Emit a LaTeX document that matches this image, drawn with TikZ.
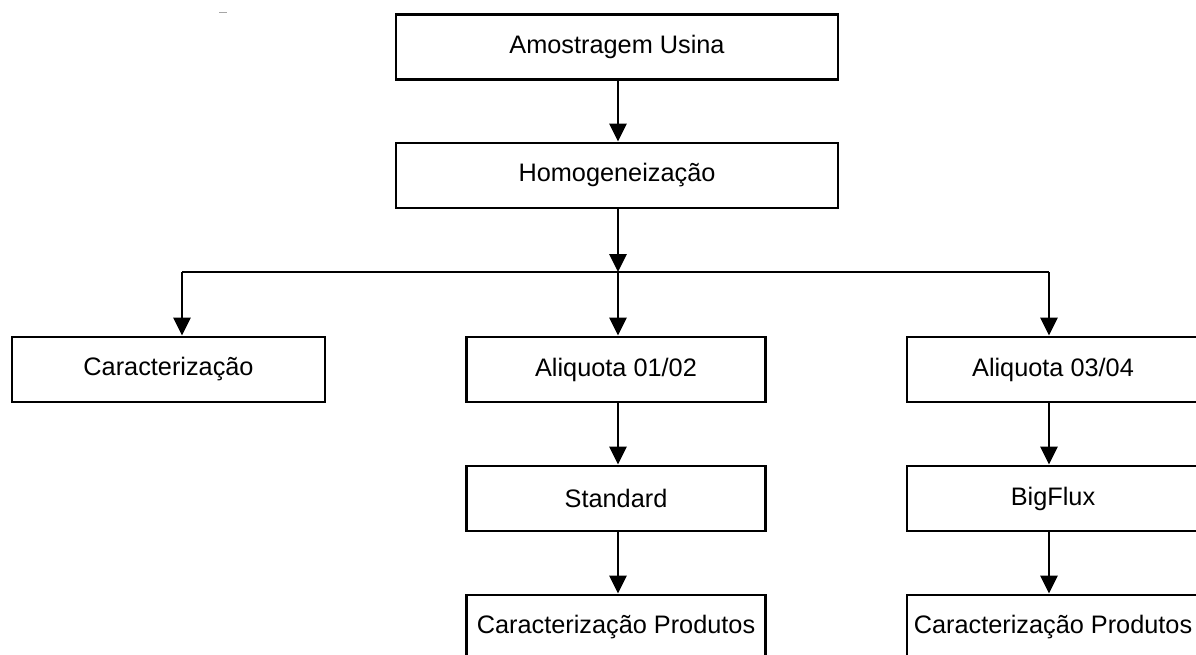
\documentclass[tikz,border=0pt]{standalone}
\usepackage{fontspec}
\setmainfont{Liberation Sans}
\usetikzlibrary{arrows.meta}
\begin{document}
\begin{tikzpicture}[x=1pt,y=-1pt,
  stepbox/.style={draw, line width=2.9pt, rectangle, inner sep=0pt,
    minimum height=65pt, font=\fontsize{25.3}{30}\selectfont},
  wide/.style={minimum width=442pt},
  mid/.style={minimum width=299pt},
  rgt/.style={minimum width=292pt},
  arr/.style={line width=2.9pt, -{Triangle[length=18pt,width=17pt]}},
  ln/.style={line width=2.9pt}]
\useasboundingbox (0,0) rectangle (1196,654);
\fill[white] (0,0) rectangle (1196,654);
\draw[gray!70, line width=1pt] (219,12) -- (227,12);

\node[stepbox, wide] (am) at (617,47) {Amostragem Usina};
\node[stepbox, wide] (ho) at (617,175.5) {Homogeneização};
\node[stepbox, minimum width=313pt] (car) at (168.5,369.5) {Caracterização};
\node[stepbox, mid] (a12) at (616,369.5) {Aliquota 01/02};
\node[stepbox, rgt] (a34) at (1053,369.5) {Aliquota 03/04};
\node[stepbox, mid] (std) at (616,498.5) {Standard};
\node[stepbox, rgt] (bf) at (1053,498.5) {BigFlux};
\node[stepbox, mid] (p1) at (616,627.5) {Caracterização Produtos};
\node[stepbox, rgt] (p2) at (1053,627.5) {Caracterização Produtos};

\coordinate (j) at (618,272);
\coordinate (jl) at (182,272);
\coordinate (jr) at (1049,272);

\draw[arr] (am.south -| j) -- (ho.north -| j);
\draw[arr] (ho.south -| j) -- (j);
\draw[ln] (jl) -- (jr);
\draw[arr] (j) -- (a12.north -| j);
\draw[arr] (jl) -- (car.north -| jl);
\draw[arr] (jr) -- (a34.north -| jr);
\draw[arr] (a12.south -| j) -- (std.north -| j);
\draw[arr] (std.south -| j) -- (p1.north -| j);
\draw[arr] (a34.south -| jr) -- (bf.north -| jr);
\draw[arr] (bf.south -| jr) -- (p2.north -| jr);
\end{tikzpicture}
\end{document}
